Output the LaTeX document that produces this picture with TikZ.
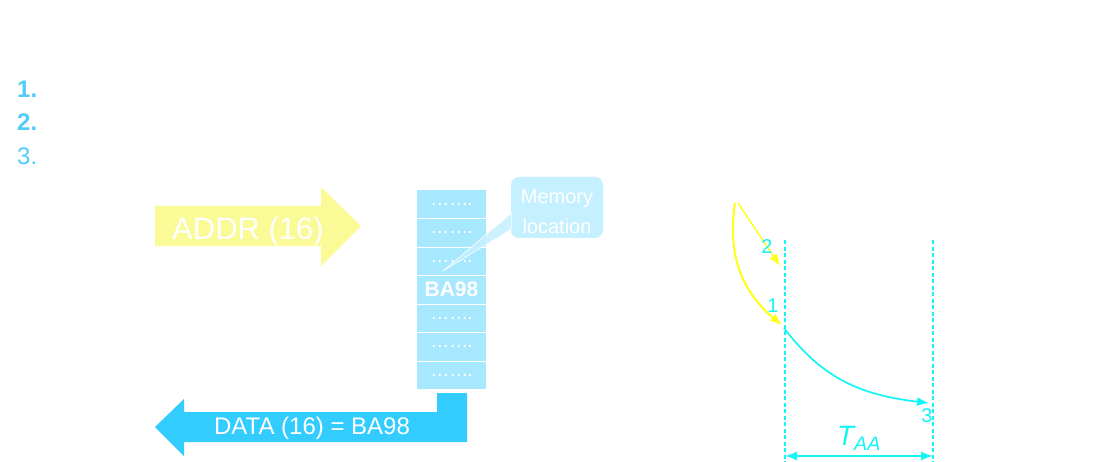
\documentclass[tikz,border=0pt]{standalone}
\usepackage{fontspec}
\setmainfont{Liberation Sans}
\usetikzlibrary{arrows.meta,positioning,calc}
\definecolor{listblue}{RGB}{80,205,250}
\definecolor{addryellow}{RGB}{250,250,150}
\definecolor{cellblue}{RGB}{168,232,255}
\definecolor{noteblue}{RGB}{196,240,255}
\definecolor{datablue}{RGB}{51,204,255}
\definecolor{sigyellow}{RGB}{255,255,20}
\definecolor{sigcyan}{RGB}{20,245,245}
\begin{document}
\begin{tikzpicture}[x=1pt,y=-1pt,
    cell/.style={draw=white,line width=1pt,fill=cellblue,minimum width=70pt,
        minimum height=28.5pt,inner sep=0pt,text=white},
    item/.style={anchor=west,inner sep=0pt,text=listblue},
    num/.style={inner sep=0pt,text=sigcyan,font=\fontsize{20}{20}\selectfont},
    tip/.style={-{Latex[length=12pt,width=9pt]}}]
    \useasboundingbox (0,0) rectangle (1115,462);
    \fill[white] (0,0) rectangle (1115,462);

    \node[item,font=\fontsize{24}{24}\selectfont\bfseries] (item1) at (17,89) {1.};
    \node[item,font=\fontsize{24}{24}\selectfont\bfseries] (item2) at (17,122) {2.};
    \node[item,font=\fontsize{24}{24}\selectfont] (item3) at (17,156) {3.};

    \fill[addryellow] (155,206) -- (321,206) -- (321,187) -- (361,226)
        -- (321,266) -- (321,246) -- (155,246) -- cycle;
    \node[text=white,font=\fontsize{31}{31}\selectfont] (addr) at (248,231) {ADDR (16)};

    \foreach \i in {1,2,3,5,6,7}
    {
        \node[cell,font=\fontsize{19}{19}\selectfont] (mem\i) at (451.5,{175.75+28.5*\i}) {……\kern-0.05em.};
    }
    \node[cell,font=\fontsize{21}{21}\selectfont\bfseries] (mem4) at (451.5,289.75) {BA98};

    \fill[datablue] (467,393) -- (467,442) -- (184,442) -- (184,456) -- (155,427)
        -- (184,399) -- (184,412) -- (437,412) -- (437,393) -- cycle;
    \node[text=white,font=\fontsize{24}{24}\selectfont] (data) at (312,428) {DATA (16) = BA98};

    \node[fill=noteblue,rounded corners=8pt,minimum width=92pt,minimum height=61pt,
        inner sep=0pt] (note) at (557,207.5) {};
    \node[text=white,align=center,inner sep=0pt,font=\fontsize{20}{30}\selectfont]
        (notetext) at (557,211.5) {Memory\\location};
    \coordinate (memtip) at (443,271);
    \filldraw[fill=noteblue,fill opacity=0.85,draw=white,line width=0.6pt]
        (memtip) -- ($(note.south west)+(0.5,-25)$) -- ($(note.south west)+(0.5,-9)$) -- cycle;

    \coordinate (lineAtop) at (785,240);
    \coordinate (lineAbot) at (785,462);
    \coordinate (lineBtop) at (933,240);
    \coordinate (lineBbot) at (933,462);
    \draw[sigcyan,line width=1.4pt,dash pattern=on 4pt off 2.5pt] (lineAtop) -- (lineAbot);
    \draw[sigcyan,line width=1.4pt,dash pattern=on 4pt off 2.5pt] (lineBtop) -- (lineBbot);

    \coordinate (addrvalid) at (735,203);
    \coordinate (cevalid) at (738,203);
    \coordinate (ev1) at (782,325);
    \coordinate (ev2) at (780,266);
    \coordinate (ev1out) at (784,328);
    \coordinate (ev3) at (929,403);
    \draw[sigyellow,line width=2pt,tip] (addrvalid)
        .. controls (727,255) and (742,292) .. (ev1);
    \draw[sigyellow,line width=1.3pt,tip] (cevalid) -- (ev2);
    \draw[sigcyan,line width=1.7pt,tip] (ev1out)
        .. controls (822,378) and (860,395) .. (ev3);

    \node[num] (lbl2) at (767,247) {2};
    \node[num] (lbl1) at (773,306) {1};
    \node[num] (lbl3) at (927,416) {3};

    \coordinate (taaL) at (785,456);
    \coordinate (taaR) at (933,456);
    \draw[sigcyan,line width=1.8pt,{Latex[length=12pt,width=9pt]}-{Latex[length=12pt,width=9pt]}] (taaL) -- (taaR);
    \node[text=sigcyan,font=\fontsize{28}{28}\selectfont\itshape] (taa) at (859,438) {T\textsubscript{AA}};
\end{tikzpicture}
\end{document}
